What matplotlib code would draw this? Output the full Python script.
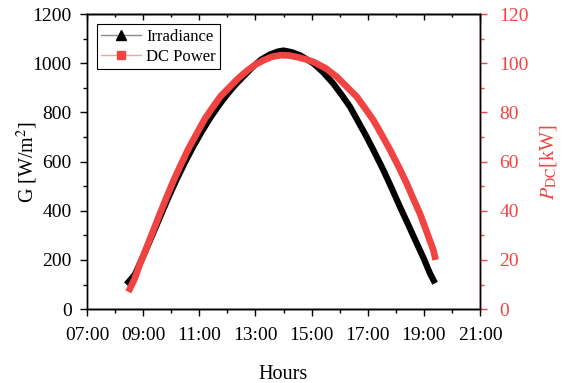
import matplotlib
matplotlib.use("Agg")
import matplotlib.pyplot as plt
from matplotlib.lines import Line2D
from matplotlib.ticker import FixedLocator, MultipleLocator, FuncFormatter

plt.rcParams["font.family"] = ["Liberation Serif", "DejaVu Serif"]
plt.rcParams["mathtext.fontset"] = "stix"

# --- data ---
irr_hours = [8.4, 8.7, 9.0, 9.3, 9.6, 9.9, 10.2, 10.5, 10.8, 11.1, 11.4, 11.7,
             12.0, 12.3, 12.6, 12.9, 13.2, 13.5, 13.8, 14.0, 14.3, 14.6, 14.8,
             15.06, 15.4, 15.77, 16.07, 16.37, 16.66, 16.96, 17.26, 17.56, 17.85,
             18.15, 18.45, 18.75, 19.0, 19.22, 19.4]
irradiance = [100, 140, 215, 295, 375, 455, 530, 600, 665, 725, 780, 830,
              875, 915, 950, 985, 1015, 1035, 1048, 1052, 1045, 1032, 1018,
              1000, 965, 918, 872, 823, 763, 701, 634, 565, 493,
              416, 342, 267, 205, 145, 105]

dc_hours = [8.47, 8.7, 8.89, 9.1, 9.36, 9.6, 9.84, 10.07, 10.31, 10.6, 10.91,
            11.2, 11.5, 11.75, 12.05, 12.35, 12.7, 13.0, 13.3, 13.6, 13.9, 14.2,
            14.5, 14.8, 15.06, 15.5, 15.9, 16.25, 16.61, 16.9, 17.2, 17.5, 17.8,
            18.1, 18.39, 18.62, 18.86, 19.1, 19.34, 19.42]
dc_power = [7, 12.5, 18.6, 24.5, 32, 39, 45.7, 52, 58, 65, 71.5,
            77.5, 82.5, 86.5, 90, 93.5, 97, 99.5, 101.3, 102.7, 103.3, 103.2,
            102.5, 101.6, 100.6, 98, 94.5, 90.5, 86.4, 81.8, 76.9, 70.9, 64.7,
            58, 51.1, 45, 38.9, 31.5, 24, 20]

hour_ticks = [7, 9, 11, 13, 15, 17, 19, 21]

RED = "#F24343"

fig = plt.figure(figsize=(5.62, 3.83), dpi=100)
ax = fig.add_axes([0.155, 0.193, 0.699, 0.770])
ax2 = ax.twinx()
ax3 = ax.twiny()  # only for the inward ticks on the top spine

ax.plot(irr_hours, irradiance, color="black", lw=4.5, solid_capstyle="butt", zorder=2)
ax2.plot(dc_hours, dc_power, color=RED, lw=4.8, solid_capstyle="butt", zorder=3)

# x axis
ax.set_xlim(7, 21)
ax.xaxis.set_major_locator(FixedLocator(hour_ticks))
ax.xaxis.set_minor_locator(MultipleLocator(1))
ax.xaxis.set_major_formatter(FuncFormatter(lambda v, p: f"{int(v):02d}:00"))
ax.set_xlabel("Hours", fontsize=14.5, labelpad=15)

ax3.set_xlim(7, 21)
ax3.xaxis.set_major_locator(FixedLocator(hour_ticks))
ax3.xaxis.set_minor_locator(MultipleLocator(1))
ax3.tick_params(which="major", direction="in", length=4, width=1, labeltop=False)
ax3.tick_params(which="minor", direction="in", length=2.5, width=1)

# left axis
ax.set_ylim(0, 1200)
ax.yaxis.set_major_locator(MultipleLocator(200))
ax.yaxis.set_minor_locator(MultipleLocator(100))
ax.set_ylabel("G [W/m$^2$]", fontsize=14.5)
ax.yaxis.set_label_coords(-0.12, 0.5)

# right axis
ax2.set_ylim(0, 120)
ax2.yaxis.set_major_locator(MultipleLocator(20))
ax2.yaxis.set_minor_locator(MultipleLocator(10))
ax2.set_ylabel(r"$P_{\mathrm{DC}}$[kW]", fontsize=14.5, color=RED)
ax2.yaxis.set_label_coords(1.148, 0.5)

ax.tick_params(axis="both", which="major", labelsize=14, direction="out",
               length=5, width=1, pad=6)
ax.tick_params(axis="both", which="minor", direction="out", length=3, width=1)
ax.tick_params(axis="x", which="major", pad=8)
ax2.tick_params(axis="y", which="major", labelsize=14, colors=RED,
                direction="out", length=5, width=1, pad=9)
ax2.tick_params(axis="y", which="minor", colors=RED, direction="out", length=3, width=1)

for a in (ax, ax2, ax3):
    for s in a.spines.values():
        s.set_linewidth(1)
ax2.spines["right"].set_color(RED)
ax2.spines["left"].set_visible(False)

handles = [
    Line2D([], [], color="#8c8c8c", lw=1, marker="^", markersize=6.5,
           markerfacecolor="black", markeredgecolor="black"),
    Line2D([], [], color="#F5A3A3", lw=1, marker="s", markersize=5.5,
           markerfacecolor=RED, markeredgecolor=RED),
]
leg = ax.legend(handles, ["Irradiance", "DC Power"], loc="upper left",
                bbox_to_anchor=(0.025, 0.965), fontsize=12, frameon=True,
                fancybox=False, edgecolor="black", framealpha=1,
                borderpad=0.25, labelspacing=0.25, handlelength=2.4,
                handletextpad=0.3, borderaxespad=0)
leg.get_frame().set_linewidth(0.8)

fig.savefig("out.png", dpi=100)
